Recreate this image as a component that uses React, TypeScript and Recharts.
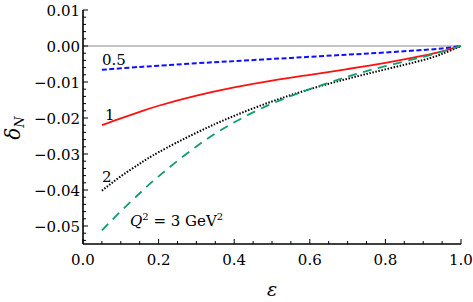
import React from 'react';
import { LineChart, Line, XAxis, YAxis, ReferenceLine } from 'recharts';

// epsilon grid and delta_N curves for each Q^2 (GeV^2)
const eps = [0.05, 0.1, 0.15, 0.2, 0.3, 0.4, 0.5, 0.6, 0.7, 0.8, 0.9, 0.95, 1.0];
const q05 = [-0.0066, -0.0062, -0.0058, -0.0055, -0.0048, -0.0042, -0.0036, -0.003, -0.0024, -0.0018, -0.0011, -0.0007, 0];
const q1 = [-0.022, -0.0201, -0.0183, -0.0166, -0.0138, -0.0115, -0.0096, -0.008, -0.0064, -0.0047, -0.0027, -0.0015, 0];
const q2 = [-0.0402, -0.0362, -0.0327, -0.0295, -0.0241, -0.0194, -0.0154, -0.012, -0.0091, -0.0065, -0.0039, -0.0022, 0];
const q3 = [-0.0512, -0.0459, -0.0409, -0.0362, -0.0279, -0.0212, -0.016, -0.012, -0.0085, -0.0056, -0.003, -0.0016, 0];

const xTicks = [0, 0.05, 0.1, 0.15, 0.2, 0.25, 0.3, 0.35, 0.4, 0.45, 0.5, 0.55, 0.6, 0.65, 0.7, 0.75, 0.8, 0.85, 0.9, 0.95, 1.0];
const yTicks = Array.from({ length: 33 }, (_, i) => Math.round((-0.054 + i * 0.002) * 1000) / 1000);

const data = eps.map((e, i) => ({ eps: e, q05: q05[i], q1: q1[i], q2: q2[i], q3: q3[i] }));

const FONT = '"DejaVu Serif", "Liberation Serif", serif';
const isMajor = (v: number, step: number) => Math.abs(v / step - Math.round(v / step)) < 1e-6;
const fmtY = (v: number) => {
  const s = Math.abs(v).toFixed(2);
  return v < -1e-9 ? '\u2212' + s : s;
};

const txt = { fontFamily: FONT, fontSize: 15 };

const BottomTick = (props: any) => {
  const { x, y, payload } = props;
  const major = isMajor(payload.value, 0.2);
  return (
    <g>
      <line x1={x} x2={x} y1={y} y2={y - (major ? 5 : 3)} stroke="#000" strokeWidth={1} />
      {major && (
        <text x={x} y={y + 21} textAnchor="middle" style={txt} fill="#000">
          {payload.value.toFixed(1)}
        </text>
      )}
    </g>
  );
};

const TopTick = (props: any) => {
  const { x, y, payload } = props;
  const major = isMajor(payload.value, 0.2);
  return <line x1={x} x2={x} y1={y} y2={y + (major ? 5 : 3)} stroke="#000" strokeWidth={1} />;
};

const LeftTick = (props: any) => {
  const { x, y, payload } = props;
  const major = isMajor(payload.value, 0.01);
  return (
    <g>
      <line x1={x} x2={x + (major ? 5 : 3)} y1={y} y2={y} stroke="#000" strokeWidth={1} />
      {major && (
        <text x={x - 3} y={y + 5.5} textAnchor="end" style={txt} fill="#000">
          {fmtY(payload.value)}
        </text>
      )}
    </g>
  );
};

const RightTick = (props: any) => {
  const { x, y, payload } = props;
  const major = isMajor(payload.value, 0.01);
  return <line x1={x} x2={x - (major ? 5 : 3)} y1={y} y2={y} stroke="#000" strokeWidth={1} />;
};

const axisLine = { stroke: '#000', strokeWidth: 1.6 };

export default function App() {
  return (
    <div style={{ position: 'fixed', left: 0, top: 0, width: 473, height: 302, background: '#fff' }}>
      <LineChart width={473} height={302} data={data} margin={{ top: 10, right: 12, bottom: 0, left: 0 }}>
        <XAxis
          xAxisId="b"
          dataKey="eps"
          type="number"
          domain={[0, 1]}
          ticks={xTicks}
          height={58}
          tickSize={0}
          tickMargin={0}
          tickLine={false}
          axisLine={axisLine}
          tick={<BottomTick />}
          interval={0}
        />
        <XAxis
          xAxisId="t"
          dataKey="eps"
          type="number"
          orientation="top"
          domain={[0, 1]}
          ticks={xTicks}
          height={0}
          tickSize={0}
          tickMargin={0}
          tickLine={false}
          axisLine={axisLine}
          tick={<TopTick />}
          interval={0}
        />
        <YAxis
          yAxisId="l"
          type="number"
          domain={[-0.055, 0.01]}
          allowDataOverflow
          ticks={yTicks}
          width={83}
          tickSize={0}
          tickMargin={0}
          tickLine={false}
          axisLine={axisLine}
          tick={<LeftTick />}
          interval={0}
        />
        <YAxis
          yAxisId="r"
          orientation="right"
          type="number"
          domain={[-0.055, 0.01]}
          allowDataOverflow
          ticks={yTicks}
          width={0}
          tickSize={0}
          tickMargin={0}
          tickLine={false}
          axisLine={axisLine}
          tick={<RightTick />}
          interval={0}
        />
        <ReferenceLine xAxisId="b" yAxisId="l" y={0} stroke="#b0b0b0" strokeWidth={1.3} />
        <Line xAxisId="b" yAxisId="l" dataKey="q05" type="natural" stroke="#1010ff" strokeWidth={2} strokeDasharray="5 2.5" dot={false} isAnimationActive={false} />
        <Line xAxisId="b" yAxisId="l" dataKey="q1" type="natural" stroke="#ff1010" strokeWidth={1.8} dot={false} isAnimationActive={false} />
        <Line xAxisId="b" yAxisId="l" dataKey="q2" type="natural" stroke="#000" strokeWidth={2} strokeDasharray="1.5 1.6" dot={false} isAnimationActive={false} />
        <Line xAxisId="b" yAxisId="l" dataKey="q3" type="natural" stroke="#119e6e" strokeWidth={1.8} strokeDasharray="9 6.5" dot={false} isAnimationActive={false} />
      </LineChart>
      <svg width={473} height={302} style={{ position: 'absolute', left: 0, top: 0, pointerEvents: 'none' }}>
        <g style={txt} fill="#000">
          <text x={102} y={65}>0.5</text>
          <text x={105} y={120}>1</text>
          <text x={102} y={182}>2</text>
          <text x={130} y={226}>
            <tspan fontStyle="italic">Q</tspan>
            <tspan dy={-6} fontSize={10}>2</tspan>
            <tspan dy={6}> = 3 GeV</tspan>
            <tspan dy={-6} fontSize={10}>2</tspan>
          </text>
          <text x={272} y={296} textAnchor="middle" fontStyle="italic" fontSize={19}>ε</text>
          <text transform="translate(20,128) rotate(-90)" textAnchor="middle" fontStyle="italic" fontSize={20}>
            δ<tspan dy={4} fontSize={13}>N</tspan>
          </text>
        </g>
      </svg>
    </div>
  );
}
